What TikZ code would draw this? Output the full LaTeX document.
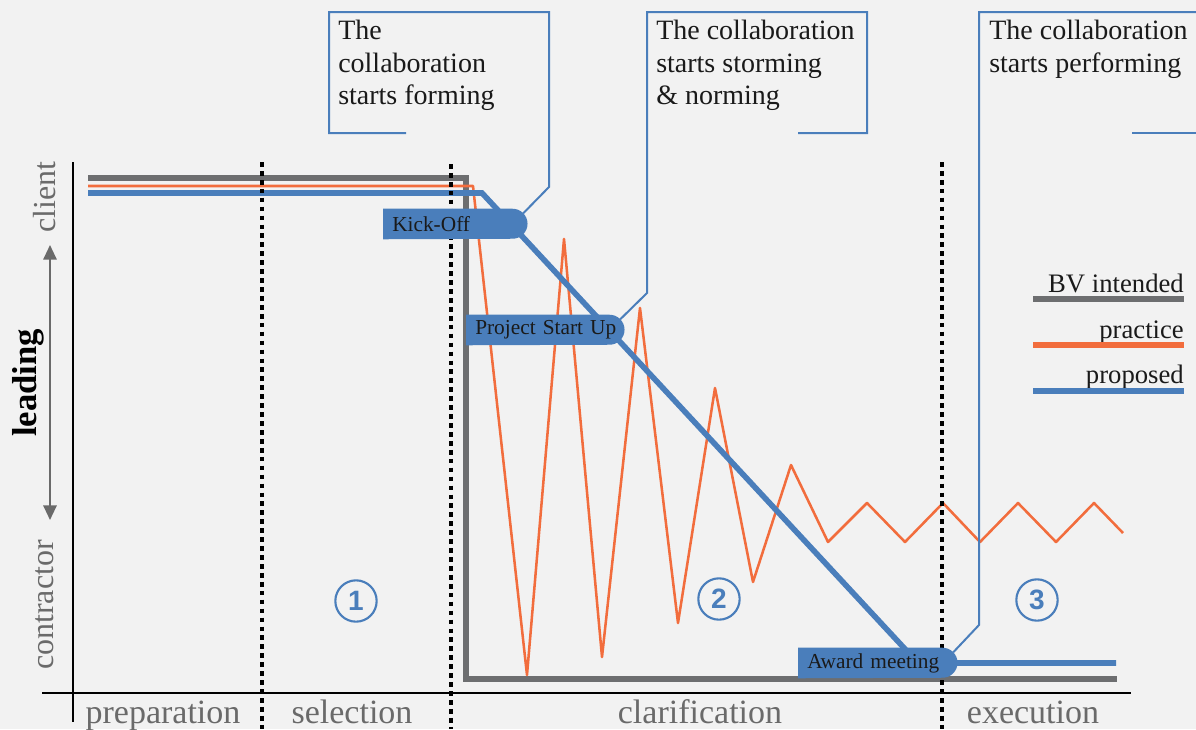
\documentclass[tikz,border=0pt]{standalone}
\usepackage{fontspec}
\setmainfont{Liberation Serif}
\newfontfamily\numfont{Liberation Sans}
\usetikzlibrary{arrows.meta,calc}
\definecolor{bgc}{HTML}{F2F2F2}
\definecolor{bvgray}{HTML}{6D6E70}
\definecolor{pracor}{HTML}{F26D3D}
\definecolor{propblue}{HTML}{4A7EBB}
\definecolor{labgray}{HTML}{6A6A6A}
\definecolor{txt}{HTML}{1A1A1A}
\pgfdeclarelayer{lines}
\pgfdeclarelayer{msfill}
\pgfsetlayers{lines,msfill,main}
\hbadness=10000 \hfuzz=50pt
\tikzset{
  axisline/.style={line width=1.5pt, black},
  dotline/.style={line width=3pt, black, dash pattern=on 3.5pt off 3.2pt},
  bvline/.style={line width=3.8pt, bvgray},
  pracline/.style={line width=1.9pt, pracor, line join=round},
  propline/.style={line width=4.2pt, propblue},
  callout/.style={line width=1.5pt, propblue},
  milestone/.style={rectangle, text=txt, font=\fontsize{16}{17}\selectfont,
    minimum height=22.5pt, inner xsep=6.75pt, inner ysep=0pt, anchor=west, align=left},
  msfillstyle/.style={fill=propblue},
  ctext/.style={font=\fontsize{21}{24.4}\selectfont, align=left, anchor=north west,
    inner sep=0pt, text=txt},
  legtext/.style={font=\fontsize{20}{22}\selectfont, anchor=base east, inner sep=0pt, text=txt},
  phase/.style={font=\fontsize{25.5}{28}\selectfont, anchor=base, inner sep=0pt, text=labgray},
  sidelab/.style={font=\fontsize{24}{26}\selectfont, rotate=90, inner sep=0pt, text=labgray},
  numcirc/.style={circle, draw=propblue, line width=1.6pt, minimum size=31pt, inner sep=0pt,
    text=propblue, font=\numfont\bfseries\fontsize{21}{21}\selectfont},
}
\begin{document}
\begin{tikzpicture}[x=0.75pt,y=-0.75pt]
\useasboundingbox (0,0) rectangle (1196,729);

\begin{pgfonlayer}{lines}
\fill[bgc] (0,0) rectangle (1196,729);
% axes
\coordinate (ya) at (73,162); \coordinate (yb) at (73,722);
\coordinate (xa) at (42,693); \coordinate (xb) at (1131,693);
\draw[axisline] (ya) -- (yb);
\draw[axisline] (xa) -- (xb);

% BV intended
\coordinate (g0) at (88,178); \coordinate (g1) at (466,178);
\coordinate (g2) at (466,679); \coordinate (g3) at (1117,679);
\draw[bvline] (g0) -- (g1) -- (g2) -- (g3);

% practice
\draw[pracline] (88,186) -- (473,186) -- (527,675) -- (564,239) -- (602,657) -- (640,308)
  -- (678,623) -- (715,388) -- (753,582) -- (791,465) -- (828,542) -- (867,503)
  -- (905,542) -- (943,503) -- (980,542) -- (1018,503) -- (1056,542) -- (1094,503)
  -- (1123,533);

% proposed
\coordinate (b0) at (88,193); \coordinate (b1) at (482,193);
\coordinate (b2) at (918,663); \coordinate (b3) at (1116,663);
\draw[propline] (b0) -- (b1) -- (b2) -- (b3);

% phase separators
\coordinate (d1a) at (262,162); \coordinate (d1b) at (262,729);
\coordinate (d2a) at (451,164); \coordinate (d2b) at (451,729);
\coordinate (d3a) at (942,162); \coordinate (d3b) at (942,729);
\draw[dotline] (d1a) -- (d1b);
\draw[dotline] (d2a) -- (d2b);
\draw[dotline] (d3a) -- (d3b);
\end{pgfonlayer}

% milestones (text nodes; fills on layer below)
\node[milestone, minimum width=108pt, text width=94.5pt] (kick) at (383,224) {\mbox{Kick-Off}};
\node[milestone, minimum width=118.5pt, text width=105pt] (psu) at (466,330) {\mbox{Project Start Up}};
\node[milestone, minimum width=119.25pt, text width=105.75pt] (award) at (798,663) {\mbox{Award meeting}};

\begin{pgfonlayer}{msfill}
\foreach \m in {kick,psu,award}{
  \fill[msfillstyle] (\m.north west) -- ($(\m.north east)+(-15,0)$)
    arc[start angle=-90, end angle=90, radius=15] -- (\m.south west) -- cycle;
}
\end{pgfonlayer}

% callouts
\draw[callout] (406,133) -- (329,133) -- (329,12) -- (549,12) -- (549,187)
  -- ($(kick.east)+(-4.4,-10.6)$);
\draw[callout] (798,133) -- (867,133) -- (867,12) -- (647,12) -- (647,293)
  -- ($(psu.east)+(-4.4,-10.6)$);
\draw[callout] (1132,133) -- (1196,133);
\draw[callout] (1196,12) -- (979,12) -- (979,625) -- ($(award.east)+(-4.4,-10.6)$);

\node[ctext] (t1) at (338,20) {The\\collaboration\\starts forming};
\node[ctext] (t2) at (656,20) {The collaboration\\starts storming\\\& norming};
\node[ctext] (t3) at (989,20) {The collaboration\\starts performing};

% phase numbers
\node[numcirc] (n1) at (356,601) {1};
\node[numcirc] (n2) at (719,599) {2};
\node[numcirc] (n3) at (1037,600) {3};

% legend
\node[legtext] (l1) at (1184,292) {BV intended};
\node[legtext] (l2) at (1184,338) {practice};
\node[legtext] (l3) at (1184,383) {proposed};
\coordinate (la1) at (1033,299); \coordinate (lb1) at (1184,299);
\coordinate (la2) at (1033,345); \coordinate (lb2) at (1184,345);
\coordinate (la3) at (1033,391); \coordinate (lb3) at (1184,391);
\draw[bvline] (la1) -- (lb1);
\draw[line width=3.8pt, pracor] (la2) -- (lb2);
\draw[propline] (la3) -- (lb3);

% phase labels
\node[phase] (p1) at (163,723) {preparation};
\node[phase] (p2) at (352,723) {selection};
\node[phase] (p3) at (700,723) {clarification};
\node[phase] (p4) at (1033,723) {execution};

% vertical axis labels
\node[sidelab] (client) at (45,197) {client};
\node[sidelab] (contr) at (45,605) {contractor};
\node[font=\bfseries\fontsize{26}{28}\selectfont, rotate=90, inner sep=0pt, text=black] (lead) at (28,383) {leading};
\coordinate (aa) at (50,245); \coordinate (ab) at (50,520);
\draw[line width=1.5pt, labgray, {Triangle[length=11pt,width=10pt]}-{Triangle[length=11pt,width=10pt]}] (aa) -- (ab);
\end{tikzpicture}
\end{document}
